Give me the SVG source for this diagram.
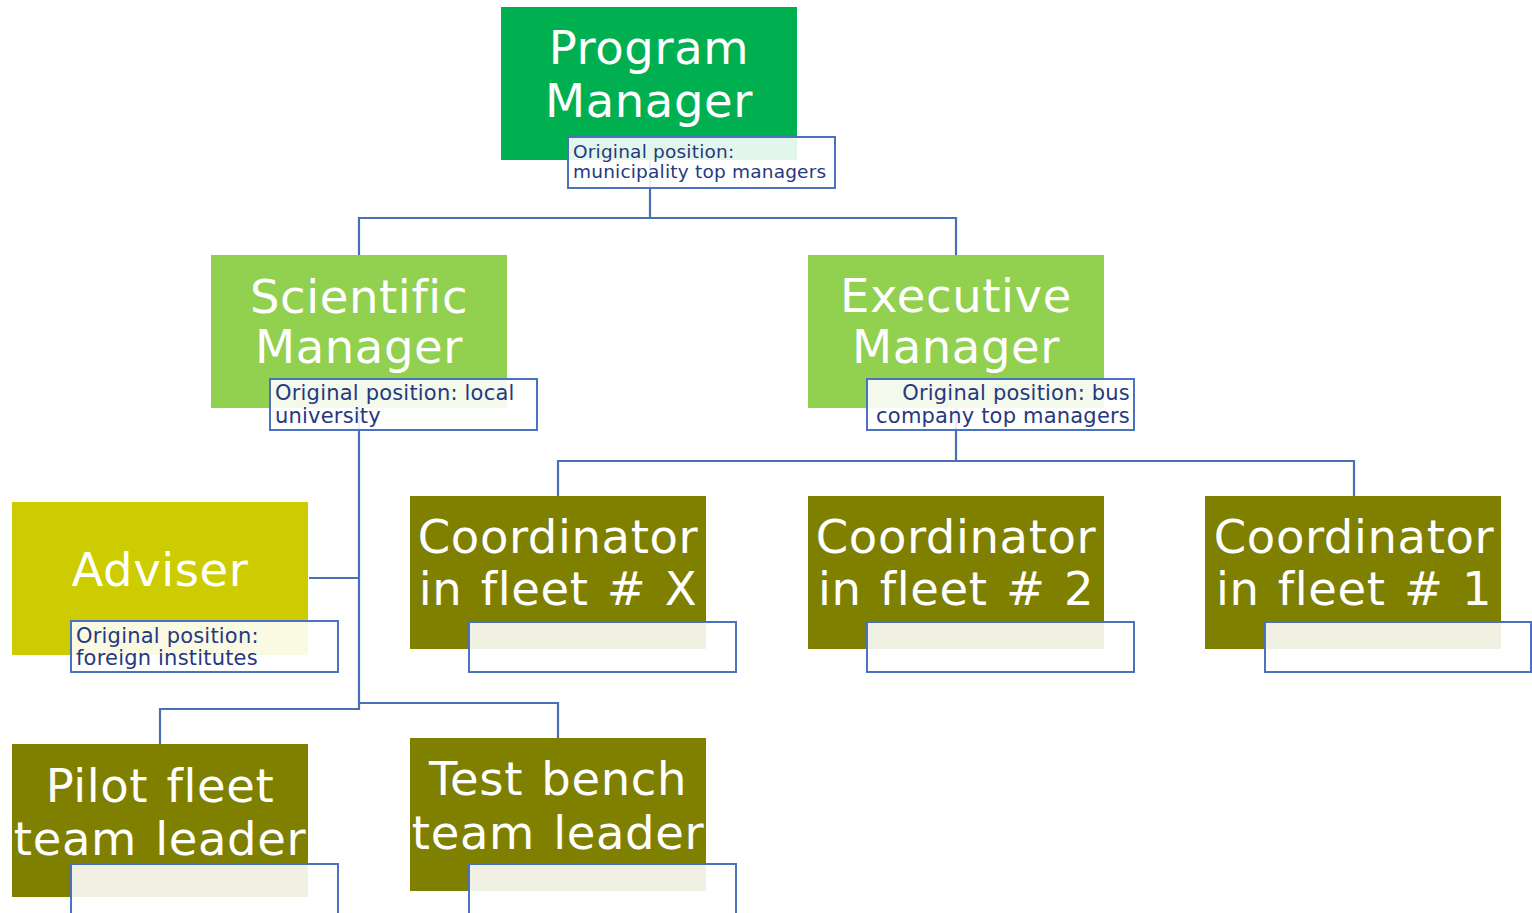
<svg xmlns="http://www.w3.org/2000/svg" width="1532" height="913" viewBox="0 0 1532 913">
<style>
.title{font-family:"DejaVu Sans","Verdana",sans-serif;font-size:46.5px;letter-spacing:0.6px;word-spacing:3px;fill:#ffffff;text-anchor:middle}
.sub{fill:#ffffff;fill-opacity:0.89;stroke:#4a72c0;stroke-width:2}
.note{font-family:"DejaVu Sans","Verdana",sans-serif;font-size:21px;letter-spacing:0.2px;fill:#26387e}
.conn{fill:none;stroke:#4a6fb5;stroke-width:2.2}
</style>
<rect width="1532" height="913" fill="#ffffff"/>
<g id="node-program">
<rect x="501" y="7" width="296" height="153" fill="#00b050"/>
</g>
<g id="node-scientific">
<rect x="211" y="255" width="296" height="153" fill="#92d050"/>
</g>
<g id="node-executive">
<rect x="808" y="255" width="296" height="153" fill="#92d050"/>
</g>
<g id="node-adviser">
<rect x="12" y="502" width="296" height="153" fill="#cccc00"/>
</g>
<g id="node-coordX">
<rect x="410" y="496" width="296" height="153" fill="#808000"/>
</g>
<g id="node-coord2">
<rect x="808" y="496" width="296" height="153" fill="#808000"/>
</g>
<g id="node-coord1">
<rect x="1205" y="496" width="296" height="153" fill="#808000"/>
</g>
<g id="node-pilot">
<rect x="12" y="744" width="296" height="153" fill="#808000"/>
</g>
<g id="node-testbench">
<rect x="410" y="738" width="296" height="153" fill="#808000"/>
</g>
<g id="connectors">
<path class="conn" d="M650,160 V218 M359,255 V218 H956 V255"/>
<path class="conn" d="M956,408 V461 M558,496 V461 H1354 V496"/>
<path class="conn" d="M359,408 V709 H160 V744 M309,578 H359 M359,703 H558 V738"/>
</g>
<g id="labels">
<text class="title" x="649" y="64">Program</text>
<text class="title" x="649" y="117">Manager</text>
<rect class="sub" x="568" y="137" width="267" height="51"/>
<text class="note" x="573" y="158" style="font-size:18.5px">Original position:</text>
<text class="note" x="573" y="178" style="font-size:18.5px">municipality top managers</text>

<text class="title" x="359" y="313">Scientific</text>
<text class="title" x="359" y="363">Manager</text>
<rect class="sub" x="270" y="379" width="267" height="51"/>
<text class="note" x="275" y="400">Original position: local</text>
<text class="note" x="275" y="423">university</text>

<text class="title" x="956" y="312">Executive</text>
<text class="title" x="956" y="363">Manager</text>
<rect class="sub" x="867" y="379" width="267" height="51"/>
<text class="note" x="1130" y="400" text-anchor="end">Original position: bus</text>
<text class="note" x="1130" y="423" text-anchor="end">company top managers</text>

<text class="title" x="160" y="586">Adviser</text>
<rect class="sub" x="71" y="621" width="267" height="51"/>
<text class="note" x="76" y="643">Original position:</text>
<text class="note" x="76" y="665">foreign institutes</text>

<text class="title" x="558" y="553">Coordinator</text>
<text class="title" x="558" y="605">in fleet # X</text>
<rect class="sub" x="469" y="622" width="267" height="50"/>

<text class="title" x="956" y="553">Coordinator</text>
<text class="title" x="956" y="605">in fleet # 2</text>
<rect class="sub" x="867" y="622" width="267" height="50"/>

<text class="title" x="1354" y="553">Coordinator</text>
<text class="title" x="1354" y="605">in fleet # 1</text>
<rect class="sub" x="1265" y="622" width="266" height="50"/>

<text class="title" x="160" y="802">Pilot fleet</text>
<text class="title" x="160" y="855">team leader</text>
<rect class="sub" x="71" y="864" width="267" height="60"/>

<text class="title" x="558" y="795">Test bench</text>
<text class="title" x="558" y="849">team leader</text>
<rect class="sub" x="469" y="864" width="267" height="60"/>
</g>
</svg>
